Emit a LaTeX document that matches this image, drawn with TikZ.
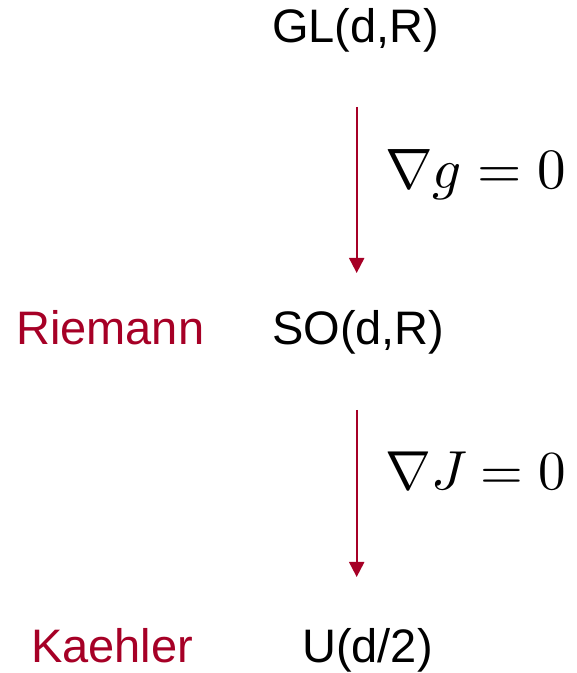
\documentclass[tikz,border=0pt]{standalone}
\usepackage{graphicx}
\usepackage[no-math]{fontspec}
\newfontfamily\arialfont{Liberation Sans}
\usetikzlibrary{arrows.meta}
\definecolor{darkred}{RGB}{166,0,38}
\newcommand{\bigmath}[2]{\scalebox{#1}{$#2$}}
\begin{document}
\begin{tikzpicture}[x=1pt,y=1pt,
  lbl/.style={inner sep=0pt,anchor=base west,font=\arialfont\fontsize{47}{56}\selectfont},
  redlbl/.style={lbl,text=darkred},
  mathlbl/.style={inner sep=0pt,anchor=base west},
  arr/.style={draw=darkred,line width=2pt,-{Triangle[width=15pt,length=15pt]}}]
\useasboundingbox (0,0) rectangle (577,673);
\node[lbl] (gl) at (272,630) {GL(d,R)};
\node[lbl] (so) at (272,328) {SO(d,R)};
\node[lbl] (u) at (302,10) {U(d/2)};
\node[redlbl] (riem) at (16,328) {Riemann};
\node[redlbl] (kae) at (31,10) {Kaehler};
\node[mathlbl] (eq1) at (385,484) {\bigmath{5.7}{\nabla g=0}};
\node[mathlbl] (eq2) at (385,183) {\bigmath{5.5}{\nabla J\mkern-0.5mu=0}};
\coordinate (a1s) at (356.7,566);
\coordinate (a1e) at (356.7,400);
\coordinate (a2s) at (356.7,263);
\coordinate (a2e) at (356.7,96);
\draw[arr] (a1s) -- (a1e);
\draw[arr] (a2s) -- (a2e);
\end{tikzpicture}
\end{document}
